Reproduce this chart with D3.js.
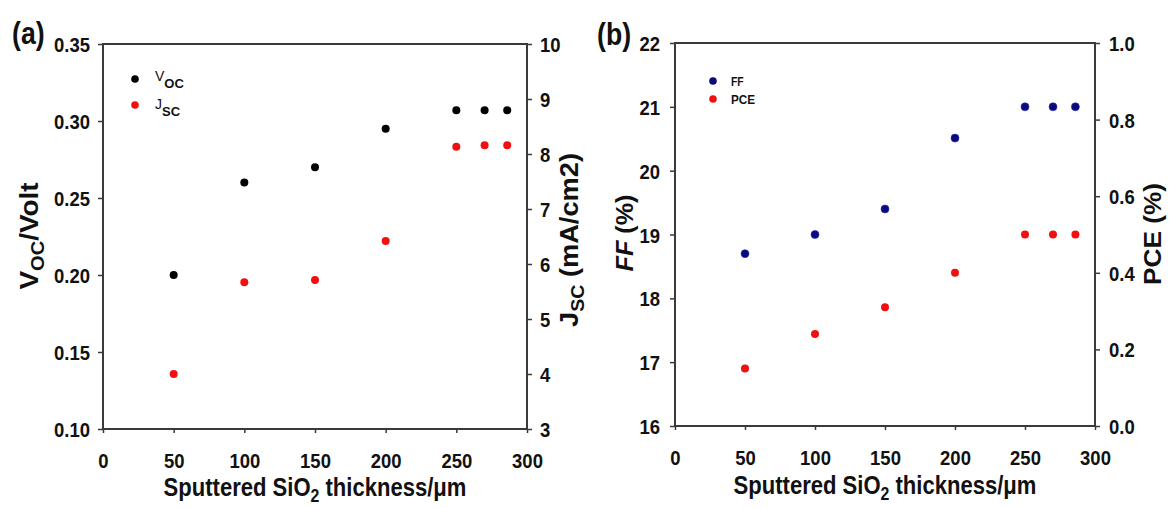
<!DOCTYPE html>
<html>
<head>
<meta charset="utf-8">
<script src="https://cdn.jsdelivr.net/npm/d3@7"></script>
<style>
  html, body { margin: 0; padding: 0; background: #fff; }
  svg { display: block; }
  text { font-family: "Liberation Sans", Arial, sans-serif; fill: #111; }
</style>
</head>
<body>
<svg id="chart" width="1175" height="508"></svg>
<script>
// ---------------- data ----------------
const thickness = [50, 100, 150, 200, 250, 270, 286];
const voc = [0.200, 0.260, 0.270, 0.295, 0.307, 0.307, 0.307];
const jsc = [4.00, 5.67, 5.71, 6.42, 8.13, 8.16, 8.16];
const ff  = [18.70, 19.00, 19.40, 20.51, 21.00, 21.00, 21.00];
const pce = [0.15, 0.24, 0.31, 0.40, 0.50, 0.50, 0.50];

const xTicks   = [0, 50, 100, 150, 200, 250, 300];
const vocTicks = [0.10, 0.15, 0.20, 0.25, 0.30, 0.35];
const jscTicks = [3, 4, 5, 6, 7, 8, 9, 10];
const ffTicks  = [16, 17, 18, 19, 20, 21, 22];
const pceTicks = [0.0, 0.2, 0.4, 0.6, 0.8, 1.0];

// ---------------- layout ----------------
const svg = d3.select("#chart");
const COND = 0.88;           // horizontal condensing of the narrow font
const frameColor = "#3a3a3a";
const black = "#000000", red = "#f01010", navy = "#0a0a78";

const A = { l: 103, r: 527, t: 44, b: 429 };
const B = { l: 675, r: 1095, t: 43, b: 426 };

const xA = d3.scaleLinear([0, 300], [A.l, A.r]);
const yVoc = d3.scaleLinear([0.10, 0.35], [A.b, A.t]);
const yJsc = d3.scaleLinear([3, 10], [A.b, A.t]);
const xB = d3.scaleLinear([0, 300], [B.l, B.r]);
const yFF = d3.scaleLinear([16, 22], [B.b, B.t]);
const yPCE = d3.scaleLinear([0, 1], [B.b, B.t]);

function styleAxis(g, kind, offset) {
  g.select(".domain").remove();
  g.selectAll(".tick line").attr("stroke", frameColor).attr("stroke-width", 1.5);
  const t = g.selectAll(".tick text")
    .attr("font-size", 21).attr("font-weight", "bold")
    .attr("fill", "#111")
    .attr("font-family", "'Liberation Sans', Arial, sans-serif");
  if (kind === "bottom") {
    t.attr("y", offset).attr("dy", 0).attr("transform", `scale(${COND},1)`);
  } else {
    t.attr("x", offset / COND).attr("dy", "0.36em").attr("transform", `scale(${COND},1)`);
  }
}

function frame(P) {
  svg.append("rect")
    .attr("x", P.l).attr("y", P.t)
    .attr("width", P.r - P.l).attr("height", P.b - P.t)
    .attr("fill", "none").attr("stroke", frameColor).attr("stroke-width", 2);
}

// rotated / condensed titles fitted to a target length
function title(x, y, rot, parts, size, target, anchor) {
  const g = svg.append("g").attr("transform", `translate(${x},${y}) rotate(${rot})`);
  const t = g.append("text").attr("text-anchor", anchor || "middle")
    .attr("font-size", size).attr("font-weight", "bold");
  parts.forEach(p => {
    const ts = t.append("tspan").text(p.text);
    if (p.sub) ts.attr("font-size", size * 0.72).attr("dy", size * 0.24);
    if (p.after) ts.attr("dy", -size * 0.24);
    if (p.italic) ts.attr("font-style", "italic");
  });
  if (target) {
    const w = t.node().getBBox().width;
    t.attr("transform", `scale(${target / w},1)`);
  }
  return t;
}

// ---------------- panel (a) ----------------
frame(A);
svg.append("g").attr("transform", `translate(0,${A.b})`)
  .call(d3.axisBottom(xA).tickValues(xTicks).tickSize(4).tickSizeOuter(0))
  .call(g => styleAxis(g, "bottom", 39));
svg.append("g").attr("transform", `translate(${A.l},0)`)
  .call(d3.axisLeft(yVoc).tickValues(vocTicks).tickFormat(d3.format(".2f")).tickSize(5).tickSizeOuter(0))
  .call(g => styleAxis(g, "left", -13));
svg.append("g").attr("transform", `translate(${A.r},0)`)
  .call(d3.axisRight(yJsc).tickValues(jscTicks).tickFormat(d3.format("d")).tickSize(5).tickSizeOuter(0))
  .call(g => styleAxis(g, "right", 13));

svg.append("g").selectAll("circle").data(thickness).join("circle")
  .attr("cx", (d) => xA(d)).attr("cy", (d, i) => yJsc(jsc[i])).attr("r", 4).attr("fill", red);
svg.append("g").selectAll("circle").data(thickness).join("circle")
  .attr("cx", (d) => xA(d)).attr("cy", (d, i) => yVoc(voc[i])).attr("r", 4).attr("fill", black);

// legend (a)
svg.append("circle").attr("cx", 135).attr("cy", 79).attr("r", 3.8).attr("fill", black);
svg.append("circle").attr("cx", 135).attr("cy", 105).attr("r", 3.8).attr("fill", red);
{
  const t1 = svg.append("text").attr("x", 155).attr("y", 81).attr("font-size", 14);
  t1.append("tspan").text("V");
  t1.append("tspan").text("OC").attr("font-size", 13).attr("font-weight", "bold").attr("dy", 7);
  const t2 = svg.append("text").attr("x", 155).attr("y", 109).attr("font-size", 14);
  t2.append("tspan").text("J");
  t2.append("tspan").text("SC").attr("font-size", 13).attr("font-weight", "bold").attr("dy", 7);
}

// titles (a)
title(38, 236, -90, [{ text: "V" }, { text: "OC", sub: true }, { text: "/Volt", after: true }], 25, 108);
title(578, 240, -90, [{ text: "J" }, { text: "SC", sub: true }, { text: " (mA/cm2)", after: true }], 25, 174);
title(315, 496, 0, [{ text: "Sputtered SiO" }, { text: "2", sub: true }, { text: " thickness/\u03bcm", after: true }], 25, 303);
svg.append("text").attr("transform", `translate(12,44) scale(0.86,1)`)
  .attr("font-size", 31).attr("font-weight", "bold").text("(a)");

// ---------------- panel (b) ----------------
frame(B);
svg.append("g").attr("transform", `translate(0,${B.b})`)
  .call(d3.axisBottom(xB).tickValues(xTicks).tickSize(4).tickSizeOuter(0))
  .call(g => styleAxis(g, "bottom", 39));
svg.append("g").attr("transform", `translate(${B.l},0)`)
  .call(d3.axisLeft(yFF).tickValues(ffTicks).tickFormat(d3.format("d")).tickSize(5).tickSizeOuter(0))
  .call(g => styleAxis(g, "left", -15));
svg.append("g").attr("transform", `translate(${B.r},0)`)
  .call(d3.axisRight(yPCE).tickValues(pceTicks).tickFormat(d3.format(".1f")).tickSize(5).tickSizeOuter(0))
  .call(g => styleAxis(g, "right", 14));

svg.append("g").selectAll("circle").data(thickness).join("circle")
  .attr("cx", (d) => xB(d)).attr("cy", (d, i) => yPCE(pce[i])).attr("r", 4).attr("fill", red);
svg.append("g").selectAll("circle").data(thickness).join("circle")
  .attr("cx", (d) => xB(d)).attr("cy", (d, i) => yFF(ff[i])).attr("r", 4).attr("fill", navy)
  .attr("stroke", "#2a2ad0").attr("stroke-width", 0.6);

// legend (b)
svg.append("circle").attr("cx", 713).attr("cy", 81).attr("r", 3.8).attr("fill", navy);
svg.append("circle").attr("cx", 713).attr("cy", 99).attr("r", 3.8).attr("fill", red);
svg.append("text").attr("transform", "translate(731,86) scale(0.8,1)")
  .attr("font-size", 13).attr("font-weight", "bold").text("FF");
svg.append("text").attr("transform", "translate(731,104) scale(0.9,1)")
  .attr("font-size", 13).attr("font-weight", "bold").text("PCE");

// titles (b)
title(633, 233, -90, [{ text: "FF", italic: true }, { text: " (%)" }], 24, 77);
title(1161, 234, -90, [{ text: "PCE (%)" }], 24, 102);
title(885, 494, 0, [{ text: "Sputtered SiO" }, { text: "2", sub: true }, { text: " thickness/\u03bcm", after: true }], 25, 303);
svg.append("text").attr("transform", `translate(597,45) scale(0.86,1)`)
  .attr("font-size", 31).attr("font-weight", "bold").text("(b)");
</script>
</body>
</html>
